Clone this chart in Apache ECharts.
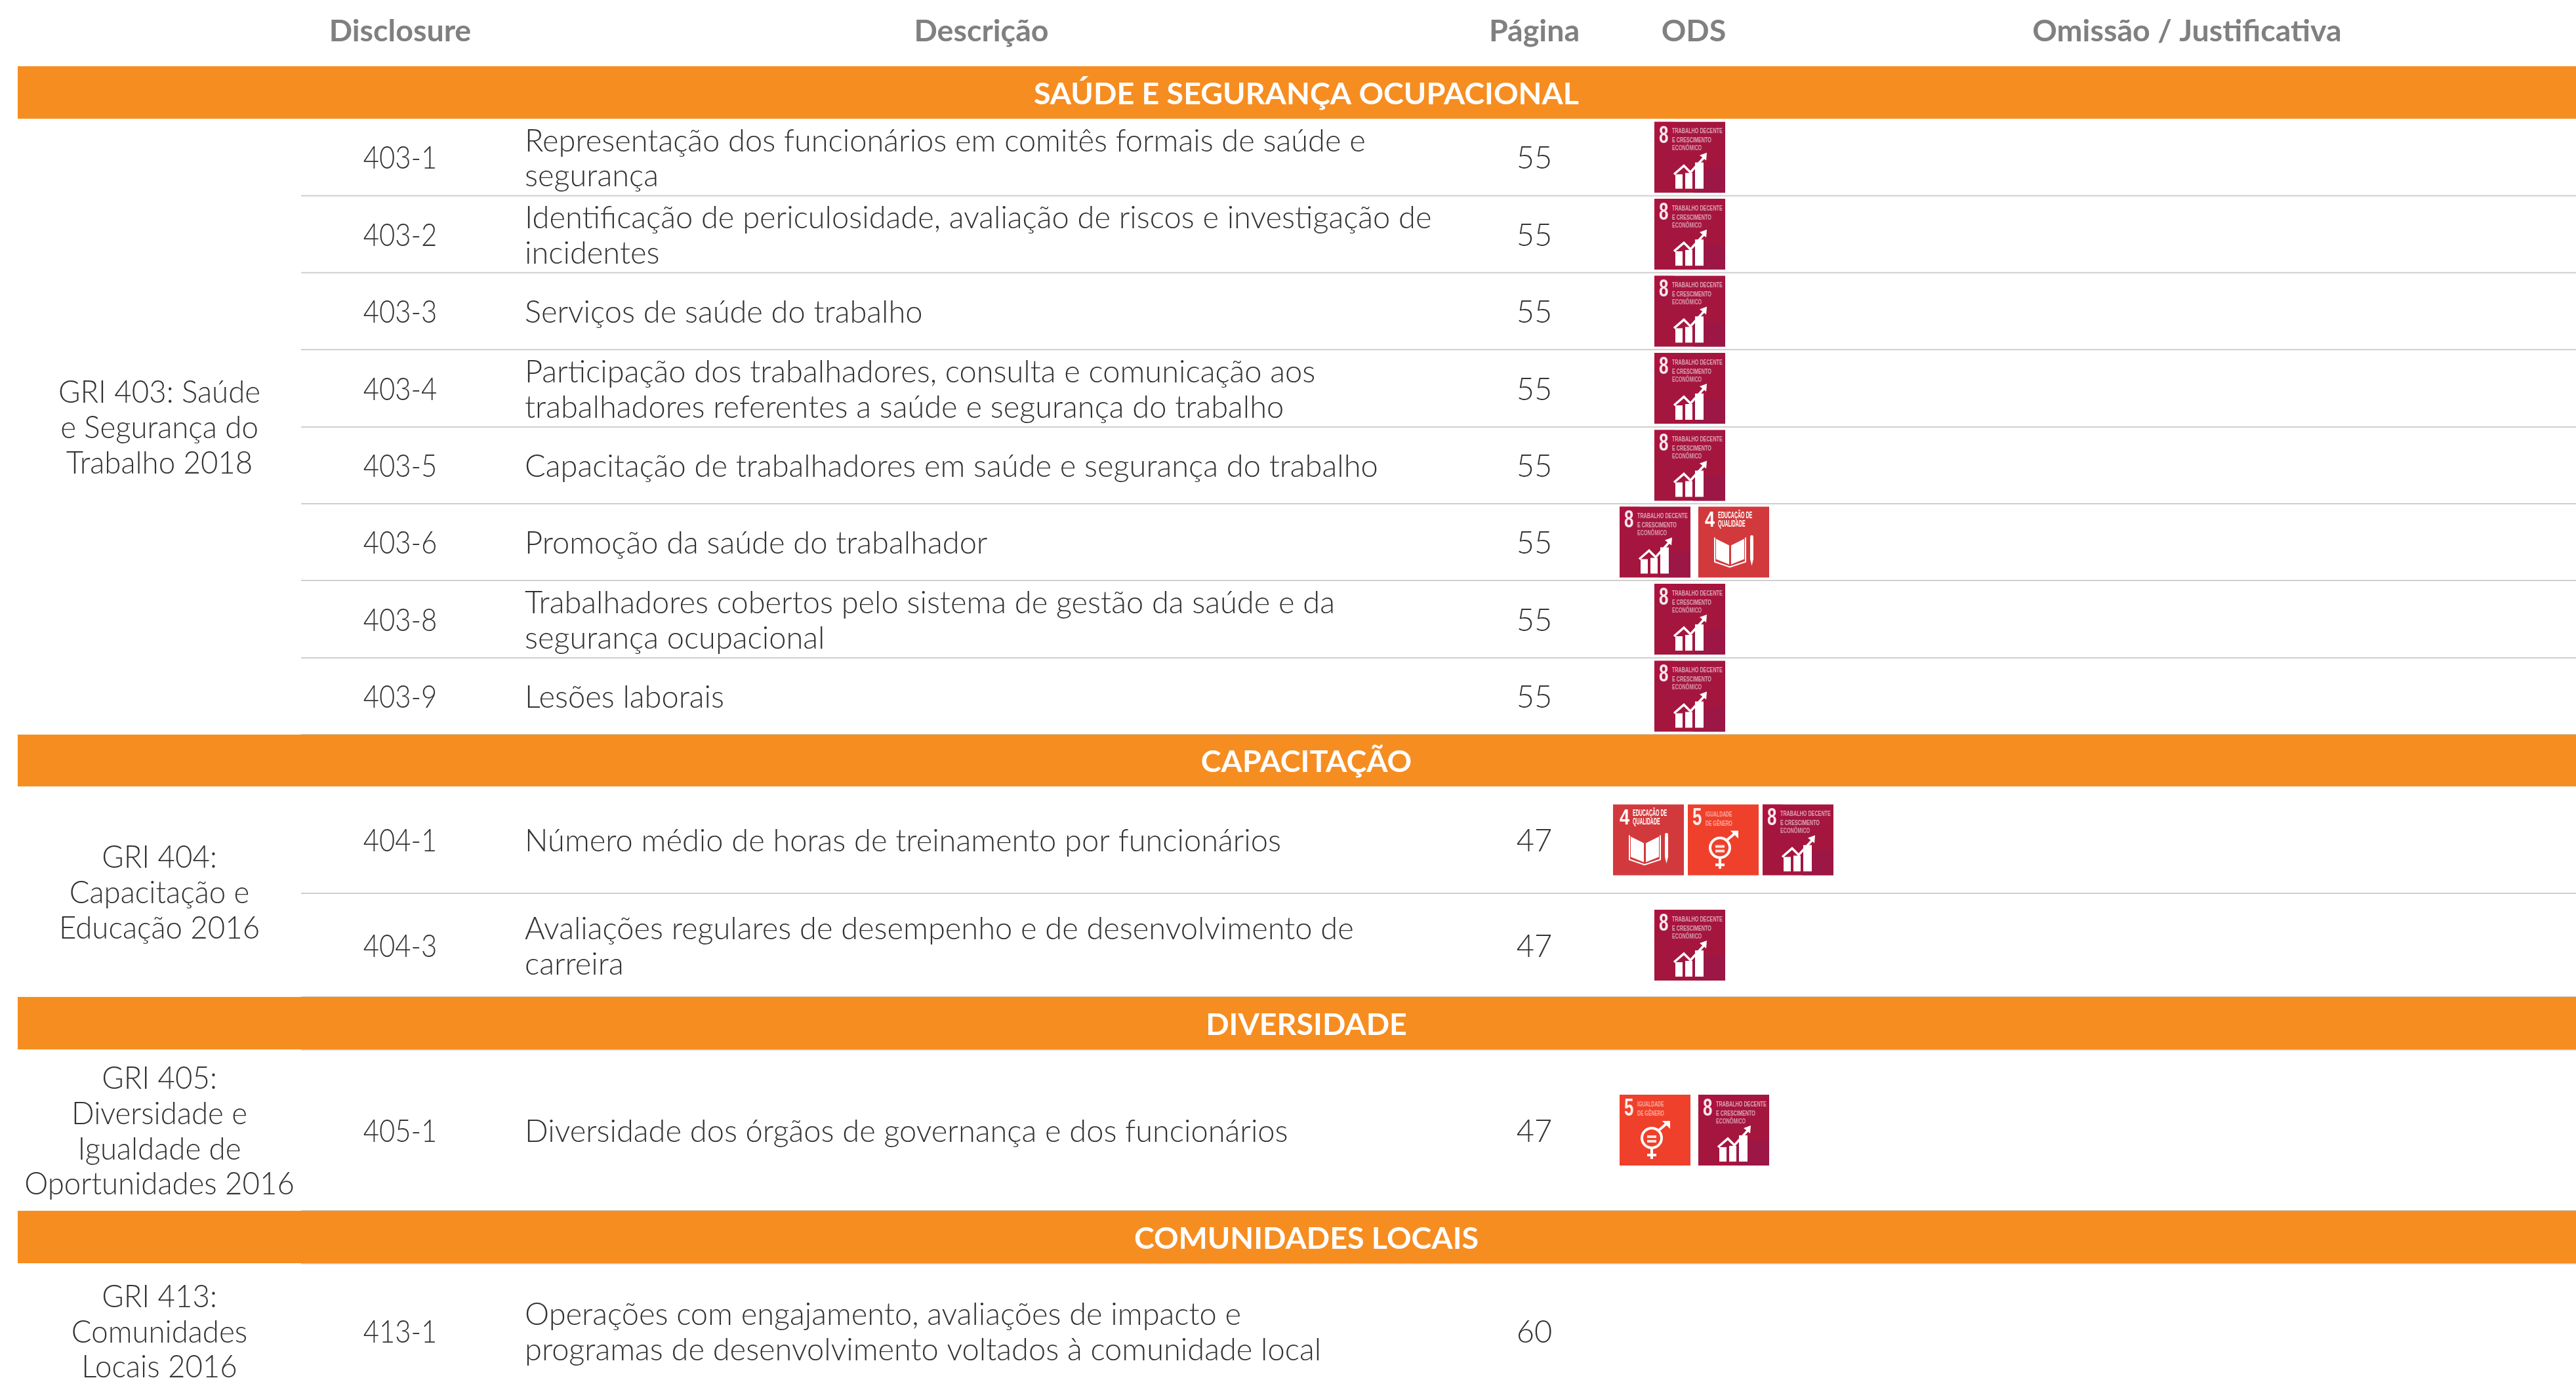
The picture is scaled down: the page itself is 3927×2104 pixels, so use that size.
<!DOCTYPE html>
<html><head><meta charset="utf-8">
<style>html,body{margin:0;padding:0;background:#fff}#c{width:3927px;height:2104px}</style>
<script src="https://cdn.jsdelivr.net/npm/echarts@6/dist/echarts.min.js"></script>
</head><body><div id="c"></div>
<script>
// ---------- content ----------
const columnTitles = ['Disclosure','Descrição','Página','ODS','Omissão / Justificativa'];
const sectionTitles = ['SAÚDE E SEGURANÇA OCUPACIONAL','CAPACITAÇÃO','DIVERSIDADE','COMUNIDADES LOCAIS'];
const griLabels = ['GRI 403: Saúde\ne Segurança do\nTrabalho 2018','GRI 404:\nCapacitação e\nEducação 2016','GRI 405:\nDiversidade e\nIgualdade de\nOportunidades 2016','GRI 413:\nComunidades\nLocais 2016'];
const rowSection = [0,0,0,0,0,0,0,0,1,1,2,3];
const codes = ['403-1','403-2','403-3','403-4','403-5','403-6','403-8','403-9','404-1','404-3','405-1','413-1'];
const descriptions = [
 'Representação dos funcionários em comitês formais de saúde e\nsegurança',
 'Identificação de periculosidade, avaliação de riscos e investigação de\nincidentes',
 'Serviços de saúde do trabalho',
 'Participação dos trabalhadores, consulta e comunicação aos\ntrabalhadores referentes a saúde e segurança do trabalho',
 'Capacitação de trabalhadores em saúde e segurança do trabalho',
 'Promoção da saúde do trabalhador',
 'Trabalhadores cobertos pelo sistema de gestão da saúde e da\nsegurança ocupacional',
 'Lesões laborais',
 'Número médio de horas de treinamento por funcionários',
 'Avaliações regulares de desempenho e de desenvolvimento de\ncarreira',
 'Diversidade dos órgãos de governança e dos funcionários',
 'Operações com engajamento, avaliações de impacto e\nprogramas de desenvolvimento voltados à comunidade local'
];
const pages = [55,55,55,55,55,55,55,55,47,47,47,60];
const odsGoals = [[8],[8],[8],[8],[8],[8,4],[8],[8],[4,5,8],[8],[5,8],[]];

// ---------- layout (axis units equal canvas pixels) ----------
const bandSpans = [[101,181],[1120,1199],[1520,1600],[1846,1926]];
const rowStarts = [181,298.4,415.8,533,651,768,885,1003,1199,1362,1600,1926];
const rowEnds   = [298.4,415.8,533,651,768,885,1003,1120,1362,1520,1846,2132];
const ruleLines = [298.4,415.8,533,651,768,885,1003,1120,1362,1520,1600.5,1846,1926.5];
const columnX = {gri:243,code:610,desc:800,page:2339};
const titleX = [610,1496,2339,2582,3334];
const iconX = {1:[2522],2:[2469,2589],3:[2459,2573,2687]};
const iconSize = 108;
const F = 'Lato';
const textColor = '#333333', titleColor = '#808080', orange = '#F68D21', rule = '#cfcfcf';
const bodySize = 47, lineH = 53.7, textShift = 2.5;

const rowMid = i => (rowStarts[i]+rowEnds[i])/2;

// local icon art, drawn in icon pixels
function tx(s,x,y,size,op,sx,blur){return {type:'text',x,y,scaleX:sx||.72,style:{text:s,x:0,y:0,font:'bold '+size+'px "Liberation Sans"',fill:'#fff',opacity:op==null?1:op,align:'left',verticalAlign:'middle',shadowBlur:blur||0,shadowColor:'#fff'}};}
function poly(pts,fill){return {type:'polygon',shape:{points:pts},style:{fill:fill||'#fff'}};}
function pl(pts,w){return {type:'polyline',shape:{points:pts},style:{fill:'none',stroke:'#fff',lineWidth:w}};}
function box(x,y,w,h,fill,op){return {type:'rect',shape:{x,y,width:w,height:h},style:{fill:fill||'#fff',opacity:op==null?1:op}};}
function art(goal){
 if(goal===8) return [box(0,0,iconSize,iconSize,'#A5163F'),box(0,0,30,25,'#B3123F',.6),box(60,70,48,38,'#96194A',.6),
  tx('8',7,22,36,.9,.72,1),
  tx('TRABALHO DECENTE',27,15,10,.6,.72,2),tx('E CRESCIMENTO',27,29,10,.6,.72,2),tx('ECONÔMICO',27,41,10,.55,.72,2),
  box(32,80,11,22),box(47,78,11,24),box(62,62,13,40),
  pl([[30,80],[45,67],[55,77],[76,54]],3.5),poly([[69,51],[80,47],[79,59]])];
 if(goal===4) return [box(0,0,iconSize,iconSize,'#D2393D'),
  tx('4',10,21,34,1,.8),tx('EDUCAÇÃO DE',30,14,14,1,.5),tx('QUALIDADE',30,27,14,1,.5),
  poly([[27,49],[47,59],[47,88],[27,80]]),poly([[50,59],[70,49],[70,80],[50,88]]),
  pl([[25,47],[25,84],[48,92],[72,84],[72,47]],2),
  poly([[79,48],[84,48],[84,80],[81.5,90],[79,80]]),{type:'circle',shape:{cx:81.5,cy:46,r:2.5},style:{fill:'#fff'}}];
 return [box(0,0,iconSize,iconSize,'#EF402B'),
  tx('5',7,22,36,.9,.72,1),tx('IGUALDADE',27,15,11,.55,.62,2),tx('DE GÊNERO',27,29,11,.55,.62,2),
  {type:'circle',shape:{cx:49,cy:66,r:15},style:{fill:'none',stroke:'#fff',lineWidth:4}},
  box(42,62,14,4,'#fff',.85),box(42,69,14,4,'#fff',.85),
  box(47,81,4,17),box(42,90,14,4),
  pl([[60,54],[73,43]],4),poly([[65,40],[77,40],[77,52]])];
}

function label(api,s,xv,yv,al,sx){
 const c=api.coord([xv,yv+textShift]);
 return {type:'text',x:c[0],y:c[1],scaleX:sx||1,style:{text:s,x:0,y:0,font:'300 '+bodySize+'px '+F,lineHeight:lineH,fill:textColor,align:al,verticalAlign:'middle'}};
}

const option = {
 animation:false,backgroundColor:'#fff',
 grid:{left:0,right:0,top:0,bottom:0,containLabel:false},
 xAxis:{type:'value',min:0,max:3927,show:false},
 yAxis:{type:'value',min:0,max:2104,inverse:true,show:false},
 series:[
  {type:'custom',silent:true,clip:false,data:ruleLines.map(y=>[y]),renderItem(p,api){
    const y=api.value(0);
    const a=api.coord([459,y]),b=api.coord([3927,y]);
    return {type:'line',shape:{x1:a[0],y1:a[1],x2:b[0],y2:b[1]},style:{stroke:rule,lineWidth:2}};
  }},
  {type:'custom',silent:true,clip:false,data:bandSpans.map((s,i)=>[s[0],s[1],i]),renderItem(p,api){
    const a=api.coord([27,api.value(0)]),b=api.coord([3927,api.value(1)]);
    const cx=api.coord([1991.5,0])[0];
    return {type:'group',children:[
     {type:'rect',shape:{x:a[0],y:a[1],width:b[0]-a[0],height:b[1]-a[1]},style:{fill:orange}},
     {type:'text',style:{text:sectionTitles[api.value(2)],x:cx,y:(a[1]+b[1])/2+textShift,font:'bold 46.6px '+F,fill:'#fff',align:'center',verticalAlign:'middle'}}
    ]};
  }},
  {type:'custom',silent:true,clip:false,data:columnTitles.map((t,i)=>[titleX[i],i]),renderItem(p,api){
    const c=api.coord([api.value(0),45+textShift]);
    return {type:'text',style:{text:columnTitles[api.value(1)],x:c[0],y:c[1],font:'bold 46.6px '+F,fill:titleColor,align:'center',verticalAlign:'middle'}};
  }},
  {type:'custom',silent:true,clip:false,data:griLabels.map((t,i)=>[i]),renderItem(p,api){
    const i=api.value(0);
    const rows=rowSection.map((s,k)=>s===i?k:-1).filter(k=>k>=0);
    return label(api,griLabels[i],columnX.gri,(rowStarts[rows[0]]+rowEnds[rows[rows.length-1]])/2,'center',.97);
  }},
  {type:'custom',silent:true,clip:false,data:codes.map((t,i)=>[i,pages[i]]),renderItem(p,api){
    const i=api.value(0),y=rowMid(i);
    return {type:'group',children:[label(api,codes[i],columnX.code,y,'center',.89),label(api,descriptions[i],columnX.desc,y,'left'),label(api,String(api.value(1)),columnX.page,y,'center')]};
  }},
  {type:'custom',silent:true,clip:false,data:odsGoals.flatMap((g,i)=>g.map((v,k)=>[i,k,v])),renderItem(p,api){
    const i=api.value(0),k=api.value(1),g=api.value(2);
    const c=api.coord([iconX[odsGoals[i].length][k],rowMid(i)-iconSize/2]);
    return {type:'group',x:c[0],y:c[1],children:art(g)};
  }}
 ]
};
echarts.init(document.getElementById('c')).setOption(option);
</script></body></html>
